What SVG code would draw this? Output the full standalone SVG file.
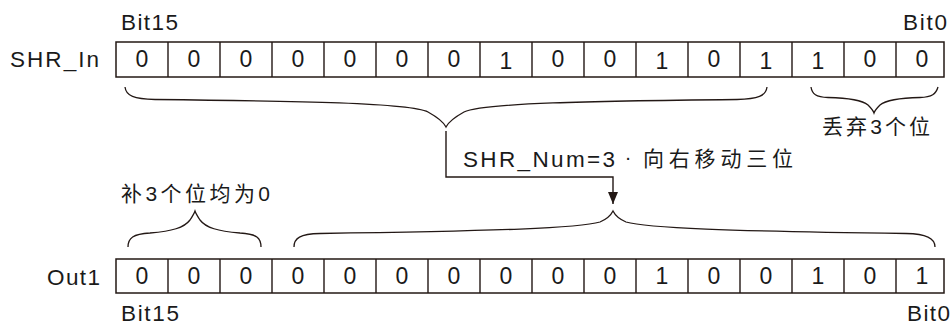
<svg xmlns="http://www.w3.org/2000/svg" width="952" height="326" viewBox="0 0 952 326">
<defs>
<style>
.cell{fill:#fff;stroke:#231815;stroke-width:1.5}
.d{font-family:"Liberation Sans",Arial,sans-serif;font-size:23px;fill:#1a1a1a;text-anchor:middle}
.t{font-family:"Liberation Sans",Arial,"Noto Sans CJK SC",sans-serif;font-size:22.5px;fill:#1a1a1a}
.c{font-family:"Liberation Sans",Arial,"Noto Sans CJK SC",sans-serif;font-size:21px;fill:#1a1a1a}
.br{fill:none;stroke:#231815;stroke-width:1.3}
.ln{fill:none;stroke:#231815;stroke-width:1.4}
</style>
<marker id="ah" viewBox="0 0 12 10" refX="12" refY="5" markerWidth="12" markerHeight="10" markerUnits="userSpaceOnUse" orient="auto">
<path d="M0,0 L12,5 L0,10 Z" fill="#231815"/>
</marker>
</defs>
<rect width="952" height="326" fill="#fff"/>

<g id="shr-in">
<text class="t" x="10" y="66.5" textLength="89" lengthAdjust="spacing">SHR_In</text>
<text class="t" x="121" y="30" textLength="57" lengthAdjust="spacing">Bit15</text>
<text class="t" x="903" y="30" textLength="44" lengthAdjust="spacing">Bit0</text>
<rect class="cell" x="116" y="42" width="828" height="35"/>
<path class="ln" d="M168,42V77M220,42V77M272,42V77M324,42V77M376,42V77M428,42V77M480,42V77M532,42V77M584,42V77M636,42V77M688,42V77M740,42V77M792,42V77M844,42V77M896,42V77"/>
<g class="d">
<text x="142" y="67">0</text><text x="194" y="67">0</text><text x="246" y="67">0</text><text x="298" y="67">0</text>
<text x="350" y="67">0</text><text x="402" y="67">0</text><text x="454" y="67">0</text><text x="506" y="68.5">1</text>
<text x="558" y="67">0</text><text x="610" y="67">0</text><text x="662" y="68.5">1</text><text x="714" y="67">0</text>
<text x="766" y="68.5">1</text><text x="818" y="68.5">1</text><text x="870" y="67">0</text><text x="922" y="67">0</text>
</g>
</g>

<g id="brace-kept">
<path class="br" d="M125,87 C126,96 134,99 155,99.5 C300,101 410,103 428,112 C437,117 443,121 446,127 C449,121 455,117 464,112 C482,103 592,101 737,99.5 C758,99 766,96 767,87"/>
</g>

<g id="brace-dropped">
<path class="br" d="M811,87 C812,94 816,97 828,97.5 C850,98 862,100 868,105 C871,108 873,110 874,113 C875,110 877,108 880,105 C886,100 898,98 920,97.5 C932,97 936,94 938,87"/>
<text class="c" x="822" y="133.5" textLength="108" lengthAdjust="spacing">丢弃3个位</text>
</g>

<g id="shift-label">
<text class="t" x="463" y="167" textLength="152" lengthAdjust="spacing">SHR_Num=3</text>
<text x="628" y="164" style="font-family:'Liberation Sans',Arial,sans-serif;font-size:20px;fill:#1a1a1a;text-anchor:middle">·</text>
<text class="c" x="643" y="166" textLength="150" lengthAdjust="spacing">向右移动三位</text>
</g>

<g id="brace-fill">
<text class="c" x="121" y="201" textLength="149" lengthAdjust="spacing">补3个位均为0</text>
<path class="br" d="M128,247 C128,238 133,234 150,233 C172,231 184,228 190,220 C192,217 194,214 195,211 C196,214 198,217 200,220 C206,228 218,231 240,233 C257,234 261,238 261,247"/>
</g>

<g id="brace-shifted">
<path class="br" d="M294,247 C294,238 300,234 320,233.5 C500,231 580,228 600,222 C607,219 611,215 613,211 C615,215 619,219 626,222 C646,228 726,231 906,233.5 C926,234 935,238 935,247"/>
</g>

<g id="out1">
<text class="t" x="47" y="285" textLength="53" lengthAdjust="spacing">Out1</text>
<text class="t" x="121" y="321" textLength="58" lengthAdjust="spacing">Bit15</text>
<text class="t" x="907" y="321" textLength="43" lengthAdjust="spacing">Bit0</text>
<rect class="cell" x="116" y="259" width="828" height="34"/>
<path class="ln" d="M168,259V293M220,259V293M272,259V293M324,259V293M376,259V293M428,259V293M480,259V293M532,259V293M584,259V293M636,259V293M688,259V293M740,259V293M792,259V293M844,259V293M896,259V293"/>
<g class="d">
<text x="142" y="284">0</text><text x="194" y="284">0</text><text x="246" y="284">0</text><text x="298" y="284">0</text>
<text x="350" y="284">0</text><text x="402" y="284">0</text><text x="454" y="284">0</text><text x="506" y="284">0</text>
<text x="558" y="284">0</text><text x="610" y="284">0</text><text x="662" y="284">1</text><text x="714" y="284">0</text>
<text x="766" y="284">0</text><text x="818" y="284">1</text><text x="870" y="284">0</text><text x="922" y="284">1</text>
</g>
</g>

<g id="connectors">
<path class="ln" d="M446,131 V177 H613 V204" marker-end="url(#ah)"/>
</g>
</svg>
